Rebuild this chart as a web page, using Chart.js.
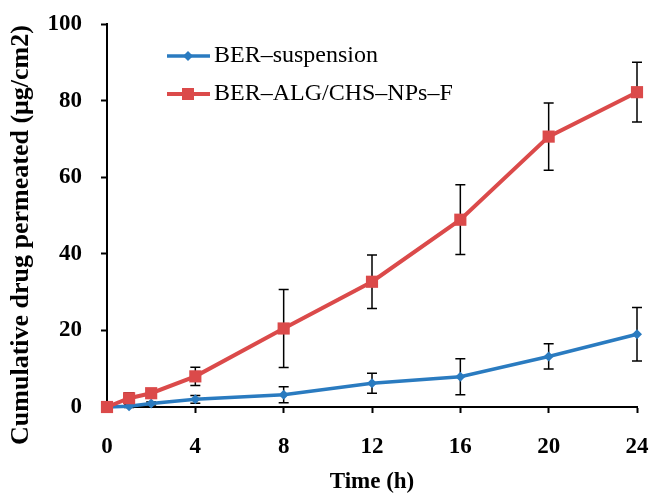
<!DOCTYPE html>
<html>
<head>
<meta charset="utf-8">
<script src="https://cdn.jsdelivr.net/npm/chart.js@4"></script>
<style>
  html, body { margin: 0; padding: 0; background: #fff; }
</style>
</head>
<body>
<canvas id="permChart" width="649" height="494"></canvas>
<script>
// Sampling times (h) and cumulative drug permeated (ug/cm2), mean and SD
const timeHours = [0, 1, 2, 4, 8, 12, 16, 20, 24];
const suspension = [0, 0.2, 0.9, 2.0, 3.2, 6.2, 7.9, 13.2, 19.0];
const suspensionSD = [0, 0.3, 0.4, 1.0, 2.1, 2.6, 4.7, 3.3, 7.0];
const nanoGel = [0, 2.3, 3.6, 8.0, 20.5, 32.7, 48.9, 70.6, 82.2];
const nanoGelSD = [0, 1.4, 0.8, 2.4, 10.2, 7.0, 9.1, 8.8, 7.8];
const xTicks = [0, 4, 8, 12, 16, 20, 24];
const yTicks = [0, 20, 40, 60, 80, 100];

const BLUE = '#2a7bc0';
const RED = '#db4a4a';
const SERIF = '"Liberation Serif", "DejaVu Serif", serif';

// Vertical error bars with caps, drawn under the lines and markers
const errorBars = {
  id: 'errorBars',
  beforeDatasetsDraw(chart) {
    const { ctx, scales: { x, y } } = chart;
    ctx.save();
    ctx.strokeStyle = '#000';
    ctx.lineWidth = 1.5;
    chart.data.datasets.forEach(ds => {
      ds.data.forEach((pt, i) => {
        const sd = ds.sd[i];
        if (!sd) return;
        const px = x.getPixelForValue(pt.x);
        const top = y.getPixelForValue(pt.y + sd);
        const bot = y.getPixelForValue(pt.y - sd);
        ctx.beginPath();
        ctx.moveTo(px, top); ctx.lineTo(px, bot);
        ctx.moveTo(px - 5, top); ctx.lineTo(px + 5, top);
        ctx.moveTo(px - 5, bot); ctx.lineTo(px + 5, bot);
        ctx.stroke();
      });
    });
    ctx.restore();
  }
};

// Legend inside the plot: short line with the series marker, then the label
const lineLegend = {
  id: 'lineLegend',
  afterDraw(chart) {
    const { ctx } = chart;
    const rows = [56, 94];
    ctx.save();
    chart.data.datasets.forEach((ds, i) => {
      const y = rows[i];
      ctx.strokeStyle = ds.borderColor;
      ctx.lineWidth = ds.borderWidth;
      ctx.beginPath();
      ctx.moveTo(167, y); ctx.lineTo(210, y);
      ctx.stroke();
      ctx.fillStyle = ds.backgroundColor;
      ctx.beginPath();
      if (ds.pointStyle === 'rect') {
        ctx.rect(182, y - 6, 12, 12);
      } else {
        const r = ds.pointRadius;
        ctx.moveTo(188 - r, y); ctx.lineTo(188, y - r);
        ctx.lineTo(188 + r, y); ctx.lineTo(188, y + r);
        ctx.closePath();
      }
      ctx.fill();
      ctx.fillStyle = '#000';
      ctx.font = '24px ' + SERIF;
      ctx.textBaseline = 'middle';
      ctx.textAlign = 'left';
      ctx.fillText(ds.label, 214, y);
    });
    ctx.restore();
  }
};

const toPoints = (vals) => vals.map((v, i) => ({ x: timeHours[i], y: v }));

new Chart(document.getElementById('permChart'), {
  type: 'line',
  data: {
    datasets: [{
      label: 'BER–suspension',
      data: toPoints(suspension),
      sd: suspensionSD,
      borderColor: BLUE,
      backgroundColor: BLUE,
      borderWidth: 3.5,
      pointStyle: 'rectRot',
      pointRadius: 5,
      pointBorderWidth: 0,
      order: 1,
      clip: false
    }, {
      label: 'BER–ALG/CHS–NPs–F',
      data: toPoints(nanoGel),
      sd: nanoGelSD,
      borderColor: RED,
      backgroundColor: RED,
      borderWidth: 4,
      pointStyle: 'rect',
      pointRadius: 8.6,
      pointBorderWidth: 0,
      order: 0,
      clip: false
    }]
  },
  options: {
    responsive: false,
    animation: false,
    layout: { padding: { top: 24, right: 12, left: 0, bottom: 0 } },
    plugins: { legend: { display: false }, tooltip: { enabled: false } },
    scales: {
      x: {
        type: 'linear',
        min: 0,
        max: 24,
        afterBuildTicks: (scale) => { scale.ticks = xTicks.map(v => ({ value: v })); },
        afterFit: (scale) => {
          scale.height = 87;
          scale.paddingLeft = 0;
          scale.paddingRight = 0;
        },
        ticks: { color: '#000', padding: 20, font: { family: SERIF, size: 23, weight: 'bold' } },
        grid: { drawOnChartArea: false, drawTicks: true, tickLength: 6, tickWidth: 2, tickColor: '#000' },
        border: { display: true, color: '#000', width: 2 },
        title: {
          display: true,
          text: 'Time (h)',
          color: '#000',
          padding: { top: 0, bottom: 0 },
          font: { family: SERIF, size: 23, weight: 'bold', lineHeight: 1 }
        }
      },
      y: {
        min: 0,
        max: 100,
        afterBuildTicks: (scale) => { scale.ticks = yTicks.map(v => ({ value: v })); },
        afterFit: (scale) => {
          scale.width = 107;
          scale.paddingTop = 0;
          scale.paddingBottom = 0;
        },
        ticks: { color: '#000', padding: 19, font: { family: SERIF, size: 23, weight: 'bold' } },
        grid: { drawOnChartArea: false, drawTicks: true, tickLength: 6, tickWidth: 2, tickColor: '#000' },
        border: { display: true, color: '#000', width: 2 },
        title: {
          display: true,
          // trailing spaces push the centred title down towards the x axis
          text: 'Cumulative drug permeated (μg/cm2)      ',
          color: '#000',
          padding: { top: 6, bottom: 0 },
          font: { family: SERIF, size: 26, weight: 'bold' }
        }
      }
    }
  },
  plugins: [errorBars, lineLegend]
});
</script>
</body>
</html>
